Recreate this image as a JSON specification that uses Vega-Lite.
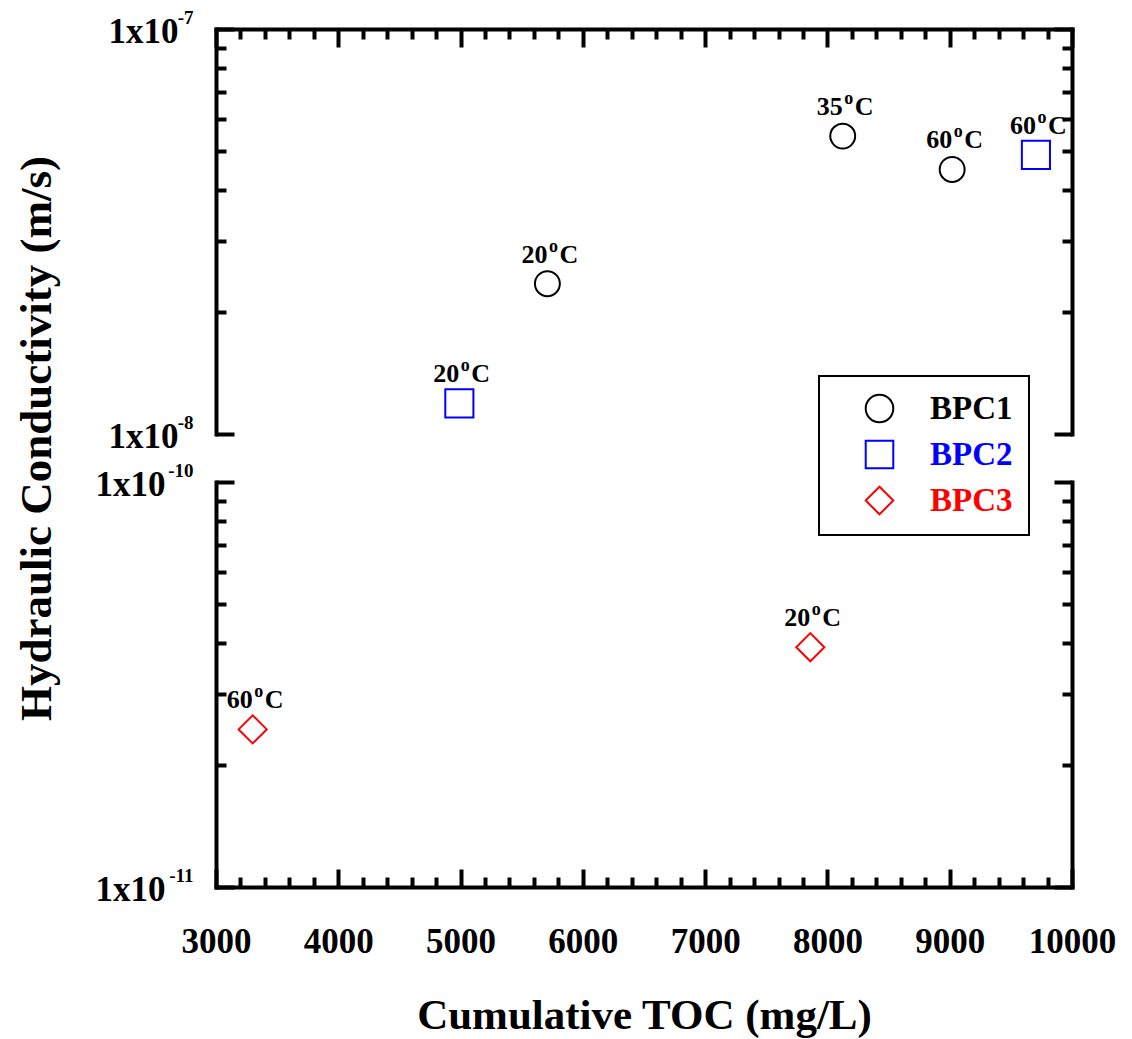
{
  "$schema": "https://vega.github.io/schema/vega-lite/v6.json",
  "padding": {"left": 14, "top": 8, "right": 5, "bottom": 2},
  "background": "white",
  "config": {
    "view": {"stroke": null},
    "font": "Liberation Serif",
    "legend": {"strokeWidth": 2},
    "axis": {
      "grid": false,
      "domainColor": "black",
      "domainWidth": 4,
      "domainCap": "square",
      "tickColor": "black",
      "tickWidth": 4,
      "labelColor": "black",
      "labelFont": "Liberation Serif",
      "labelFontWeight": "bold",
      "labelFontSize": 35,
      "labelFlush": false,
      "labelOverlap": false,
      "titleFont": "Liberation Serif",
      "titleFontWeight": "bold",
      "titleFontSize": 43,
      "titleColor": "black"
    }
  },
  "data": {
    "values": [
      {"series": "BPC1", "toc": 5710, "k": 2.35e-8, "temp": "20"},
      {"series": "BPC1", "toc": 8125, "k": 5.44e-8, "temp": "35"},
      {"series": "BPC1", "toc": 9020, "k": 4.5e-8, "temp": "60"},
      {"series": "BPC2", "toc": 4990, "k": 1.19e-8, "temp": "20"},
      {"series": "BPC2", "toc": 9705, "k": 4.89e-8, "temp": "60"},
      {"series": "BPC3", "toc": 3300, "k": 2.45e-11, "temp": "60"},
      {"series": "BPC3", "toc": 7860, "k": 3.91e-11, "temp": "20"}
    ]
  },
  "spacing": 48,
  "bounds": "flush",
  "resolve": {"scale": {"y": "independent", "shape": "independent", "stroke": "independent", "size": "independent"}, "legend": {"shape": "independent", "stroke": "independent"}},
  "vconcat": [
    {
      "width": 856,
      "height": 405,
      "transform": [{"filter": "datum.k > 1e-9"}],
      "resolve": {"axis": {"x": "independent", "y": "independent"}},
      "layer": [
        {
          "mark": {"type": "point", "filled": false, "strokeWidth": 2, "opacity": 1},
          "encoding": {
            "x": {
              "field": "toc", "type": "quantitative",
              "scale": {"domain": [3000, 10000], "nice": false, "zero": false},
              "axis": {
                "orient": "top", "labels": false, "title": null,
                "values": [3000,3200,3400,3600,3800,4000,4200,4400,4600,4800,5000,5200,5400,5600,5800,6000,6200,6400,6600,6800,7000,7200,7400,7600,7800,8000,8200,8400,8600,8800,9000,9200,9400,9600,9800,10000],
                "tickSize": {"condition": {"test": "datum.value % 1000 === 0", "value": -18}, "value": -10}
              }
            },
            "y": {
              "field": "k", "type": "quantitative",
              "scale": {"type": "log", "domain": [1e-8, 1e-7], "nice": false, "zero": false},
              "axis": {
                "orient": "left",
                "values": [1e-8,2e-8,3e-8,4e-8,5e-8,6e-8,7e-8,8e-8,9e-8,1e-7],
                "labelExpr": "datum.value === 1e-7 || datum.value === 1e-8 ? '1x10' : ''",
                "labelBaseline": "middle",
                "labelAlign": "right",
                "labelPadding": 56,
                "labelOffset": 2,
                "tickSize": {"condition": {"test": "datum.value === 1e-7 || datum.value === 1e-8", "value": -18}, "value": -10},
                "title": "Hydraulic Conductivity (m/s)",
                "titleFontSize": 45,
                "titleAngle": 270,
                "titleAlign": "center",
                "titleBaseline": "middle",
                "titleX": -180,
                "titleY": 409
              }
            },
            "shape": {
              "field": "series", "type": "nominal",
              "scale": {"domain": ["BPC1", "BPC2", "BPC3"], "range": ["circle", "square", "diamond"]},
              "legend": {
                "title": null,
                "orient": "none",
                "legendX": 603,
                "legendY": 347,
                "fillColor": "white",
                "strokeColor": "black",
                "padding": 16,
                "symbolOffset": 28,
                "symbolStrokeWidth": 2,
                "symbolSize": 760,
                "labelFont": "Liberation Serif",
                "labelFontWeight": "bold",
                "labelFontSize": 33,
                "labelOffset": 34,
                "rowPadding": 9,
                "labelColor": {"expr": "datum.value === 'BPC1' ? 'black' : datum.value === 'BPC2' ? '#0000ff' : '#ff0000'"}
              }
            },
            "stroke": {
              "field": "series", "type": "nominal",
              "scale": {"domain": ["BPC1", "BPC2", "BPC3"], "range": ["black", "#0000ff", "#ff0000"]},
              "legend": {
                "title": null,
                "orient": "none",
                "legendX": 603,
                "legendY": 347,
                "fillColor": "white",
                "strokeColor": "black",
                "padding": 16,
                "symbolOffset": 28,
                "symbolStrokeWidth": 2,
                "symbolSize": 760,
                "labelFont": "Liberation Serif",
                "labelFontWeight": "bold",
                "labelFontSize": 33,
                "labelOffset": 34,
                "rowPadding": 9,
                "labelColor": {"expr": "datum.value === 'BPC1' ? 'black' : datum.value === 'BPC2' ? '#0000ff' : '#ff0000'"}
              }
            },
            "size": {"condition": {"test": "datum.series === 'BPC1'", "value": 620}, "value": 790}
          }
        },
        {
          "mark": {"type": "text", "dy": -21, "baseline": "alphabetic", "align": "right", "fontSize": 26, "fontWeight": "bold", "font": "Liberation Serif", "color": "black"},
          "encoding": {
            "x": {"field": "toc", "type": "quantitative", "axis": null},
            "y": {
              "field": "k", "type": "quantitative",
              "axis": {
                "orient": "right", "labels": false, "title": null,
                "values": [1e-8,2e-8,3e-8,4e-8,5e-8,6e-8,7e-8,8e-8,9e-8,1e-7],
                "tickSize": {"condition": {"test": "datum.value === 1e-7 || datum.value === 1e-8", "value": -18}, "value": -10}
              }
            },
            "text": {"field": "temp"}
          }
        },
        {
          "mark": {"type": "text", "text": "o", "dx": 6, "dy": -32, "baseline": "alphabetic", "align": "center", "fontSize": 18, "fontWeight": "bold", "font": "Liberation Serif", "color": "black"},
          "encoding": {
            "x": {"field": "toc", "type": "quantitative", "axis": null},
            "y": {
              "field": "k", "type": "quantitative",
              "axis": {
                "orient": "left", "title": null, "domain": false, "ticks": false, "tickSize": 0,
                "values": [1e-8, 1e-7],
                "labelExpr": "datum.value === 1e-7 ? '-7' : '-8'",
                "labelFontSize": 19,
                "labelBaseline": "middle",
                "labelAlign": "right",
                "labelPadding": 23,
                "labelOffset": -12
              }
            }
          }
        },
        {
          "mark": {"type": "text", "text": "C", "dx": 12, "dy": -21, "baseline": "alphabetic", "align": "left", "fontSize": 26, "fontWeight": "bold", "font": "Liberation Serif", "color": "black"},
          "encoding": {
            "x": {"field": "toc", "type": "quantitative", "axis": null},
            "y": {"field": "k", "type": "quantitative", "axis": null}
          }
        }
      ]
    },
    {
      "width": 856,
      "height": 405,
      "transform": [{"filter": "datum.k < 1e-9"}],
      "resolve": {"axis": {"x": "independent", "y": "independent"}},
      "layer": [
        {
          "mark": {"type": "point", "filled": false, "strokeWidth": 2, "opacity": 1},
          "encoding": {
            "x": {
              "field": "toc", "type": "quantitative",
              "scale": {"domain": [3000, 10000], "nice": false, "zero": false},
              "axis": {
                "orient": "bottom",
                "format": "d",
                "values": [3000,3200,3400,3600,3800,4000,4200,4400,4600,4800,5000,5200,5400,5600,5800,6000,6200,6400,6600,6800,7000,7200,7400,7600,7800,8000,8200,8400,8600,8800,9000,9200,9400,9600,9800,10000],
                "labelExpr": "datum.value % 1000 === 0 ? datum.label : ''",
                "labelPadding": 55,
                "tickSize": {"condition": {"test": "datum.value % 1000 === 0", "value": -18}, "value": -10},
                "title": "Cumulative TOC (mg/L)",
                "titlePadding": 27
              }
            },
            "y": {
              "field": "k", "type": "quantitative",
              "scale": {"type": "log", "domain": [1e-11, 1e-10], "nice": false, "zero": false},
              "axis": {
                "orient": "left",
                "values": [1e-11,2e-11,3e-11,4e-11,5e-11,6e-11,7e-11,8e-11,9e-11,1e-10],
                "labelExpr": "datum.value === 1e-10 || datum.value === 1e-11 ? '1x10' : ''",
                "labelBaseline": "middle",
                "labelAlign": "right",
                "labelPadding": 69,
                "labelOffset": 2,
                "tickSize": {"condition": {"test": "datum.value === 1e-10 || datum.value === 1e-11", "value": -18}, "value": -10},
                "title": null
              }
            },
            "shape": {
              "field": "series", "type": "nominal",
              "scale": {"domain": ["BPC1", "BPC2", "BPC3"], "range": ["circle", "square", "diamond"]},
              "legend": null
            },
            "stroke": {
              "field": "series", "type": "nominal",
              "scale": {"domain": ["BPC1", "BPC2", "BPC3"], "range": ["black", "#0000ff", "#ff0000"]},
              "legend": null
            },
            "size": {"condition": {"test": "datum.series === 'BPC1'", "value": 620}, "value": 790}
          }
        },
        {
          "mark": {"type": "text", "dy": -21, "baseline": "alphabetic", "align": "right", "fontSize": 26, "fontWeight": "bold", "font": "Liberation Serif", "color": "black"},
          "encoding": {
            "x": {"field": "toc", "type": "quantitative", "axis": null},
            "y": {
              "field": "k", "type": "quantitative",
              "axis": {
                "orient": "right", "labels": false, "title": null,
                "values": [1e-11,2e-11,3e-11,4e-11,5e-11,6e-11,7e-11,8e-11,9e-11,1e-10],
                "tickSize": {"condition": {"test": "datum.value === 1e-10 || datum.value === 1e-11", "value": -18}, "value": -10}
              }
            },
            "text": {"field": "temp"}
          }
        },
        {
          "mark": {"type": "text", "text": "o", "dx": 6, "dy": -32, "baseline": "alphabetic", "align": "center", "fontSize": 18, "fontWeight": "bold", "font": "Liberation Serif", "color": "black"},
          "encoding": {
            "x": {"field": "toc", "type": "quantitative", "axis": null},
            "y": {
              "field": "k", "type": "quantitative",
              "axis": {
                "orient": "left", "title": null, "domain": false, "ticks": false, "tickSize": 0,
                "values": [1e-11, 1e-10],
                "labelExpr": "datum.value === 1e-10 ? '-10' : '-11'",
                "labelFontSize": 19,
                "labelBaseline": "middle",
                "labelAlign": "right",
                "labelPadding": 23,
                "labelOffset": -12
              }
            }
          }
        },
        {
          "mark": {"type": "text", "text": "C", "dx": 12, "dy": -21, "baseline": "alphabetic", "align": "left", "fontSize": 26, "fontWeight": "bold", "font": "Liberation Serif", "color": "black"},
          "encoding": {
            "x": {"field": "toc", "type": "quantitative", "axis": null},
            "y": {"field": "k", "type": "quantitative", "axis": null}
          }
        }
      ]
    }
  ]
}
